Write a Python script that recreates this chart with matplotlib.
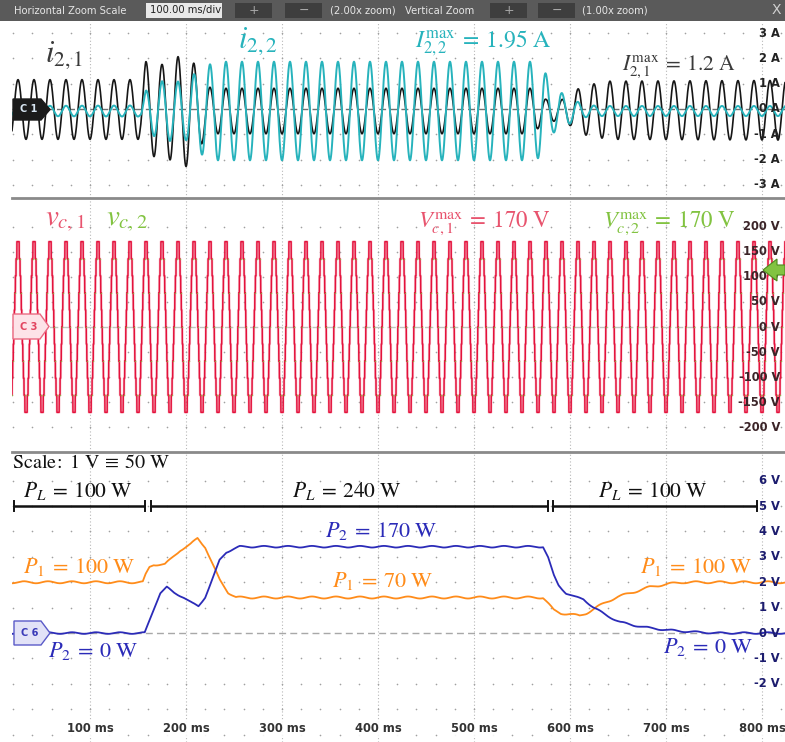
import numpy as np
import matplotlib
matplotlib.use("Agg")
import matplotlib.pyplot as plt
from matplotlib.patches import Rectangle, Polygon
from matplotlib.transforms import blended_transform_factory

plt.rcParams['mathtext.fontset'] = 'stix'
plt.rcParams['font.family'] = ['DejaVu Sans']

# ---------------------------------------------------------------- data
T_MIN, T_MAX = 18.75, 824.0      # ms shown on screen
F_LINE = 60.0                    # Hz, grid frequency
T_PEAK = 25.0                    # ms, first positive peak of the waveforms

# i_{2,1}: amplitude envelope (A) and dc offset
i21_t = [19, 152, 158, 175, 190, 203, 212, 222, 232, 560, 575, 590, 600, 612, 640, 824]
i21_amp = [1.18, 1.18, 1.9, 1.8, 2.1, 2.25, 1.6, 0.95, 0.9, 0.9, 0.45, 0.4, 0.6, 0.95, 1.15, 1.18]
i21_off_t = [19, 150, 230, 560, 600, 824]
i21_off = [-0.02, -0.02, -0.08, -0.08, -0.05, -0.05]

# i_{2,2}: amplitude envelope (A)
i22_t = [19, 152, 158, 176, 200, 215, 232, 560, 572, 580, 590, 600, 615, 630, 824]
i22_amp = [0.2, 0.22, 0.8, 1.2, 1.15, 1.7, 1.95, 1.95, 1.8, 0.9, 0.75, 0.5, 0.25, 0.2, 0.2]
i22_off = -0.08

# capacitor voltages (V): multilevel staircase
VC_MAX = 170.0
VC_LEVELS = 5                    # levels per half wave above zero

# power channels in scope volts (1 V = 50 W)
p1_t = [19, 155, 158, 162, 166, 178, 183, 194, 204, 212, 220, 227, 235, 244, 252,
        572, 577, 583, 590, 600, 610, 617, 628, 638, 649, 666, 683, 701, 718, 824]
p1_v = [2.0, 2.0, 2.3, 2.6, 2.7, 2.7, 2.87, 3.27, 3.46, 3.74, 3.39, 2.76, 2.1, 1.6, 1.4,
        1.4, 1.18, 0.9, 0.78, 0.75, 0.67, 0.78, 1.02, 1.22, 1.42, 1.61, 1.81, 1.93, 2.0, 2.0]
p2_t = [19, 157, 166, 173, 180, 187, 197, 206, 213, 220, 228.5, 235, 242, 249, 256,
        572, 577, 583, 588, 596, 605, 614, 624, 638, 652, 666, 683, 701, 725, 753, 824]
p2_v = [0, 0, 0.9, 1.57, 1.8, 1.6, 1.42, 1.18, 1.06, 1.42, 2.2, 2.87, 3.19, 3.3, 3.4,
        3.4, 3.0, 2.28, 1.89, 1.57, 1.42, 1.34, 1.02, 0.7, 0.43, 0.31, 0.2, 0.12, 0.05, 0, 0]
RIPPLE_V = 0.04
RIPPLE_PERIOD = 25.0             # ms

# load intervals (ms) and labels
load_spans = [(20.8, 157.3), (163.2, 576.7), (581.9, 794.5)]
load_labels = [r"$P_L\:=\:100\ \mathrm{W}$", r"$P_L\:=\:240\ \mathrm{W}$", r"$P_L\:=\:100\ \mathrm{W}$"]

i_ticks = [3, 2, 1, 0, -1, -2, -3]
v_ticks = [200, 150, 100, 50, 0, -50, -100, -150, -200]
p_ticks = [6, 5, 4, 3, 2, 1, 0, -1, -2]
time_ticks = [100, 200, 300, 400, 500, 600, 700, 800]

# ---------------------------------------------------------------- colours
C_BLACK = '#161616'
C_CYAN = '#27b3bc'
C_RED = '#e4123c'
C_PINK = '#f07a92'
C_GREEN = '#82c341'
C_ORANGE = '#ff8c1a'
C_BLUE = '#2b2bb8'

# ---------------------------------------------------------------- figure
W, H = 785, 742
fig = plt.figure(figsize=(W / 100, H / 100), dpi=100)


def fx(px):
    return px / W


def fy(py):
    return 1 - py / H


ax1 = fig.add_axes([fx(12), fy(198), (W - 12) / W, (198 - 22) / H])
ax2 = fig.add_axes([fx(12), fy(452), (W - 12) / W, (452 - 200) / H])
ax3 = fig.add_axes([fx(12), 0, (W - 12) / W, (742 - 453) / H])

ax1.set_ylim(-3.52, 3.44)
ax2.set_ylim(-249, 253)
ax3.set_ylim(-4.29, 7.09)

for ax in (ax1, ax2, ax3):
    ax.set_xlim(T_MIN, T_MAX)
    ax.set_xticks([])
    ax.set_yticks([])
    for s in ('left', 'right', 'top'):
        ax.spines[s].set_visible(False)
    ax.patch.set_alpha(0)
for ax in (ax1, ax2):
    ax.spines['bottom'].set_color('#8a8a8a')
    ax.spines['bottom'].set_linewidth(2.0)
ax3.spines['bottom'].set_visible(False)


def graticule(ax, rows, zero_color, zero_dash):
    for t in time_ticks:
        ax.axvline(t, color='#b8b8b8', lw=0.8, ls=(0, (1, 2)), zorder=0)
    tt = np.arange(20, 824, 20, dtype=float)
    for r in rows:
        ax.scatter(tt, np.full_like(tt, r), s=1.4, color='#a0a0a0', lw=0, zorder=0)
    ax.axhline(0, color=zero_color, lw=1.0, ls=(0, zero_dash), zorder=0.5)


graticule(ax1, [3, 2, 1, -1, -2, -3], '#707070', (5, 3))
graticule(ax2, [200, 150, 100, 50, -50, -100, -150, -200], '#c4c4c4', (6, 3))
graticule(ax3, [6, 5, 4, 3, 2, 1, -1, -2, -3, -4], '#a8a8a8', (5, 3))

# ---------------------------------------------------------------- currents
t = np.arange(T_MIN, T_MAX, 0.05)
phase = 2 * np.pi * F_LINE * (t - T_PEAK) / 1000.0
i21 = np.interp(t, i21_t, i21_amp) * np.cos(phase) + np.interp(t, i21_off_t, i21_off)
i22 = np.interp(t, i22_t, i22_amp) * np.cos(phase) + i22_off
ax1.plot(t, i21, color=C_BLACK, lw=1.2, zorder=2)
ax1.plot(t, i22, color=C_CYAN, lw=1.4, zorder=3)

# ---------------------------------------------------------------- voltages
tv = np.arange(T_MIN, T_MAX, 0.02)
ph_v = 2 * np.pi * F_LINE * (tv - T_PEAK) / 1000.0
step = VC_MAX / VC_LEVELS
vc = step * np.round(VC_LEVELS * np.cos(ph_v))
ax2.plot(tv, vc, color=C_PINK, lw=2.0, alpha=0.35, zorder=2)
ax2.plot(tv, vc, color=C_RED, lw=1.1, zorder=3)
corners = np.nonzero(np.diff(vc))[0][::2]
ax2.scatter(tv[corners], vc[corners], s=1.2, color=C_GREEN, alpha=0.8, lw=0, zorder=4)

# ---------------------------------------------------------------- powers
tp = np.arange(T_MIN, T_MAX, 0.25)
ripple = RIPPLE_V * np.sin(2 * np.pi * tp / RIPPLE_PERIOD)
ax3.plot(tp, np.interp(tp, p1_t, p1_v) + ripple, color=C_ORANGE, lw=1.3, zorder=3)
ax3.plot(tp, np.interp(tp, p2_t, p2_v) + 0.8 * ripple, color=C_BLUE, lw=1.3, zorder=3)

for (a, b), lab in zip(load_spans, load_labels):
    ax3.plot([a, b], [5, 5], color='#111111', lw=1.8, zorder=4, solid_capstyle='butt')
    for e in (a, b):
        ax3.plot([e, e], [4.8, 5.2], color='#111111', lw=1.4, zorder=4)
    ax3.text((a + b) / 2 - 2, 5.35, lab, fontsize=15.5, ha='center', va='baseline', color='#111111')

# ---------------------------------------------------------------- annotations
def ftext(x, y, s, size, color, **kw):
    fig.text(fx(x), fy(y), s, fontsize=size, color=color, va='baseline', **kw)


ftext(45, 62, r"$i_{2,1}$", 22, '#3a3a3a')
ftext(238, 48, r"$i_{2,2}$", 22, C_CYAN)
ftext(415, 47, r"$I_{2,2}^{\max}\:=\:1.95\ \mathrm{A}$", 17, C_CYAN)
ftext(622, 70, r"$I_{2,1}^{\max}\:=\:1.2\ \mathrm{A}$", 15.5, '#3a3a3a')

ftext(45, 225, r"$v_{c,1}$", 21, '#e8546e')
ftext(106, 225, r"$v_{c,2}$", 21, C_GREEN)
ftext(418, 227, r"$V_{c,1}^{\max}\:=\:170\ \mathrm{V}$", 16.5, '#e8546e')
ftext(603, 227, r"$V_{c,2}^{\max}\:=\:170\ \mathrm{V}$", 16.5, C_GREEN)

ftext(12, 468, r"$\mathrm{Scale}\!:\ 1\ \mathrm{V}\:\equiv\:50\ \mathrm{W}$", 14.5, '#111111')
ftext(325, 537, r"$P_2\:=\:170\ \mathrm{W}$", 16, C_BLUE)
ftext(23, 573, r"$P_1\:=\:100\ \mathrm{W}$", 16, C_ORANGE)
ftext(332, 587, r"$P_1\:=\:70\ \mathrm{W}$", 16, C_ORANGE)
ftext(48, 657, r"$P_2\:=\:0\ \mathrm{W}$", 16, C_BLUE)
ftext(640, 573, r"$P_1\:=\:100\ \mathrm{W}$", 16, C_ORANGE)
ftext(663, 653, r"$P_2\:=\:0\ \mathrm{W}$", 16, C_BLUE)

# right-hand scale labels
def scale_labels(ax, ticks, fmt, color):
    tr = blended_transform_factory(fig.transFigure, ax.transData)
    for v in ticks:
        ax.text(fx(780), v, fmt.format(v), transform=tr, ha='right', va='center',
                fontsize=8.3, fontweight='bold', color=color, zorder=10)


scale_labels(ax1, i_ticks, "{} A", '#222222')
scale_labels(ax2, v_ticks, "{} V", '#3b2428')
scale_labels(ax3, p_ticks, "{} V", '#1c1c6e')

tr_t = blended_transform_factory(ax3.transData, fig.transFigure)
for tk in time_ticks:
    ax3.text(tk, fy(729), f"{tk} ms", transform=tr_t, ha='center', va='center',
             fontsize=8.3, fontweight='bold', color='#333333', zorder=10,
             bbox=dict(boxstyle='square,pad=0.15', fc='white', ec='none', alpha=0.9))

# channel markers
def channel_tag(x0, x1, xt, ytop, ybot, fc, ec, label, tc):
    ym = (ytop + ybot) / 2
    pts = [(fx(x0), fy(ytop)), (fx(x1), fy(ytop)), (fx(xt), fy(ym)),
           (fx(x1), fy(ybot)), (fx(x0), fy(ybot))]
    fig.add_artist(Polygon(pts, closed=True, transform=fig.transFigure,
                           fc=fc, ec=ec, lw=1.0, zorder=20))
    fig.text(fx((x0 + x1) / 2 + 2), fy(ym), label, fontsize=7, fontweight='bold',
             color=tc, ha='center', va='center', zorder=21)


channel_tag(13, 41, 50, 99, 120, '#1b1b1b', '#1b1b1b', 'C 1', '#d8e6f2')
channel_tag(13, 40, 49, 314, 339, '#fde3e8', '#ea6a82', 'C 3', '#e2445f')
channel_tag(14, 41, 50, 621, 645, '#e2e2f7', '#5a5ac8', 'C 6', '#3a3ab8')

# reference arrow on the voltage panel
arrow = [(fx(763), fy(270)), (fx(777), fy(259)), (fx(777), fy(265)), (fx(785), fy(265)),
         (fx(785), fy(275)), (fx(777), fy(275)), (fx(777), fy(281))]
fig.add_artist(Polygon(arrow, closed=True, transform=fig.transFigure,
                       fc=C_GREEN, ec='#4d8a1e', lw=0.8, zorder=20))

# ---------------------------------------------------------------- toolbar
fig.add_artist(Rectangle((0, fy(21)), 1, 21 / H, transform=fig.transFigure,
                         fc='#5a5a5a', ec='none', zorder=30))


def bar_box(x0, x1, fc):
    fig.add_artist(Rectangle((fx(x0), fy(18)), fx(x1 - x0), 15 / H,
                             transform=fig.transFigure, fc=fc, ec='none', zorder=31))


def bar_text(x, s, color='#e6e6e6', ha='left', size=7.2):
    fig.text(fx(x), fy(10.5), s, fontsize=size, color=color, ha=ha, va='center', zorder=32)


bar_text(14, "Horizontal Zoom Scale")
bar_box(146, 222, '#e8e8e8')
bar_text(150, "100.00 ms/div", color='#222222')
for a, b, g in [(235, 272, '+'), (285, 322, '\u2212'), (490, 527, '+'), (538, 575, '\u2212')]:
    bar_box(a, b, '#3e3e3e')
    bar_text((a + b) / 2, g, color='#a8a8a8', ha='center', size=9)
bar_text(330, "(2.00x zoom)")
bar_text(405, "Vertical Zoom")
bar_text(582, "(1.00x zoom)")
bar_text(776, "X", color='#d0d0d0', ha='center', size=10)

fig.savefig("out.png", dpi=100)
